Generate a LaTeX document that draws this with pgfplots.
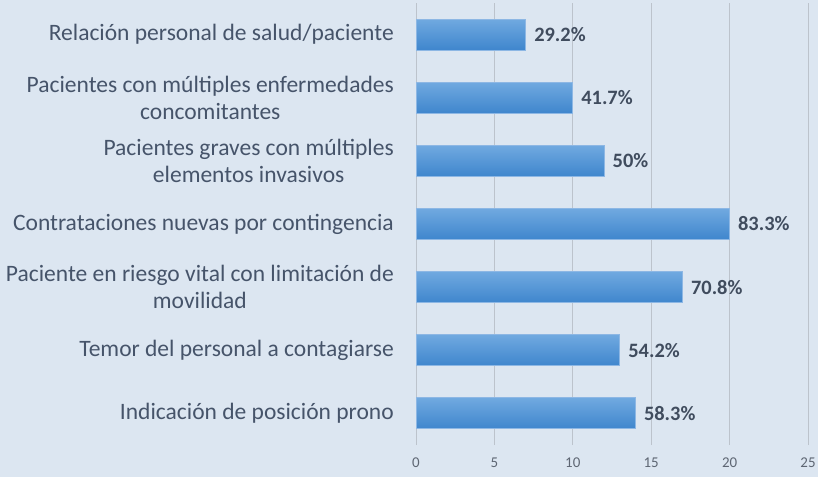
\documentclass[border=0pt]{standalone}
\usepackage{fontspec}
\setmainfont{Carlito}
\usepackage{pgfplots}
\pgfplotsset{compat=1.18}
\definecolor{bg}{HTML}{DCE6F1}
\definecolor{labelc}{HTML}{46546A}
\definecolor{valc}{HTML}{404C5E}
\definecolor{tickc}{HTML}{5E6673}
\definecolor{gridc}{HTML}{BCC3CC}
\definecolor{bartop}{HTML}{70A9E0}
\definecolor{barmid}{HTML}{5A9BDD}
\definecolor{barbot}{HTML}{3F86CD}
\definecolor{barborder}{HTML}{8DB7E4}
\pgfplotsset{mybar/.style={top color=bartop, middle color=barmid, bottom color=barbot, draw=barborder, line width=1bp}}
\begin{document}
\begin{tikzpicture}
\fill[bg] (0,0) rectangle (818bp,477bp);
\begin{axis}[
 at={(416bp,32bp)}, anchor=south west,
 scale only axis, width=392bp, height=442bp,
 xmin=0, xmax=25, ymin=0.5, ymax=7.5,
 xtick={0,5,...,25},
 ytick={1,...,7},
 yticklabels={Indicación de posición prono, Temor del personal a contagiarse, {Paciente en riesgo vital con limitación de\\movilidad}, Contrataciones nuevas por contingencia, {Pacientes graves con múltiples\\elementos invasivos}, {Pacientes con múltiples enfermedades\\concomitantes}, Relación personal de salud/paciente},
 yticklabel style={align=center, font=\fontsize{23.6}{27.5}\selectfont, text=labelc, inner sep=0pt, xshift=-22bp},
 xticklabel style={font=\fontsize{15}{17}\selectfont, text=tickc, inner sep=0pt, yshift=-13bp},
 /pgf/number format/assume math mode=true,
 major tick length=0pt,
 axis line style={draw=none},
 xmajorgrids, grid style={gridc, line width=0.9bp},
 xbar, bar width=0.49, bar shift=0pt,
 nodes near coords={\pgfplotspointmeta\%},
 point meta=explicit symbolic,
 nodes near coords style={font=\bfseries\fontsize{20.5}{23}\selectfont, text=valc, anchor=west, inner sep=0pt, xshift=8bp},
]
\addplot[mybar] coordinates {(14,1) [58.3]};
\addplot[mybar] coordinates {(13,2) [54.2]};
\addplot[mybar] coordinates {(17,3) [70.8]};
\addplot[mybar] coordinates {(20,4) [83.3]};
\addplot[mybar] coordinates {(12,5) [50]};
\addplot[mybar] coordinates {(10,6) [41.7]};
\addplot[mybar] coordinates {(7,7) [29.2]};
\end{axis}
\end{tikzpicture}
\end{document}
